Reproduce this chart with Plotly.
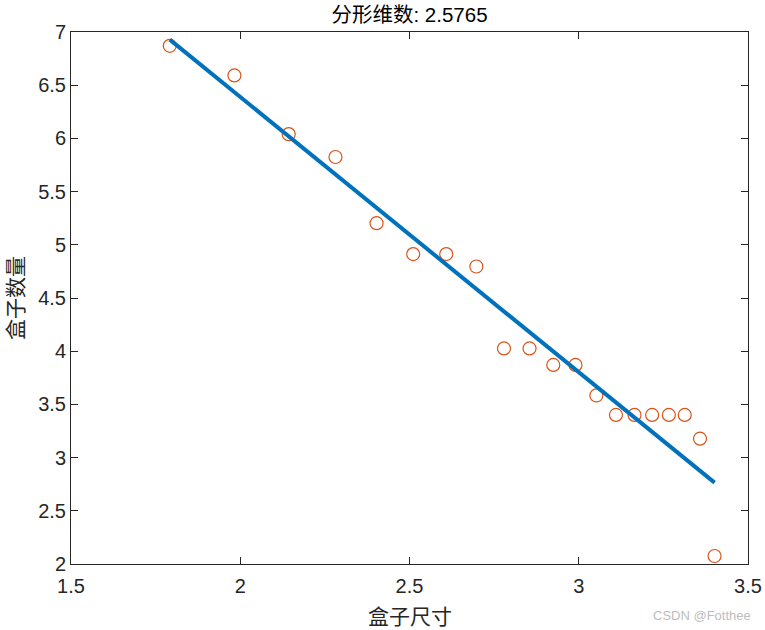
import numpy as np
import plotly.graph_objects as go

# Data (log box size vs log box count)
box_size_log = [1.7918, 1.9828, 2.1432, 2.2813, 2.4027, 2.5109, 2.6085, 2.6975,
                2.7791, 2.8546, 2.9248, 2.9904, 3.0520, 3.1100, 3.1648, 3.2168,
                3.2662, 3.3132, 3.3582, 3.4012]
box_count_log = [6.870, 6.592, 6.040, 5.825, 5.203, 4.913, 4.913, 4.796,
                 4.026, 4.026, 3.871, 3.871, 3.584, 3.401, 3.401, 3.401,
                 3.401, 3.401, 3.178, 2.075]
title_text = "分形维数: 2.5765"
x_ticks = [1.5, 2, 2.5, 3, 3.5]
y_ticks = [2, 2.5, 3, 3.5, 4, 4.5, 5, 5.5, 6, 6.5, 7]

xs = np.array(box_size_log)
ys = np.array(box_count_log)
coef = np.polyfit(xs, ys, 1)
fit_x = [xs.min(), xs.max()]
fit_y = list(np.polyval(coef, fit_x))

fig = go.Figure()
fig.add_trace(go.Scatter(
    x=box_size_log, y=box_count_log, mode="markers",
    marker=dict(symbol="circle-open", size=13, color="#D95319",
                line=dict(width=1.2, color="#D95319")),
    showlegend=False, cliponaxis=False))
fig.add_trace(go.Scatter(
    x=fit_x, y=fit_y, mode="lines",
    line=dict(color="#0072BD", width=4), showlegend=False))

axis_common = dict(
    showgrid=False, zeroline=False, showline=True, linecolor="#262626",
    linewidth=1, mirror="allticks", ticks="inside", ticklen=7,
    tickcolor="#262626", tickwidth=1, automargin=False,
    tickfont=dict(family="Liberation Sans, Arial", size=20, color="#262626"),
)
fig.update_xaxes(range=[1.5, 3.5], tickvals=x_ticks, ticklabelstandoff=4,
                 ticktext=[f"{v:g}" for v in x_ticks], **axis_common)
fig.update_yaxes(range=[2, 7], tickvals=y_ticks,
                 ticktext=[f"{v:g}" for v in y_ticks], **axis_common)

fig.update_layout(
    width=765, height=630,
    margin=dict(l=71, r=17, t=32, b=66, autoexpand=False),
    paper_bgcolor="white", plot_bgcolor="white",
    title=dict(text=title_text, x=0.5, xanchor="center", xref="paper",
               y=1 - 15 / 630, yanchor="middle", automargin=False,
               font=dict(family="Liberation Sans, Noto Sans CJK SC", size=20.5, color="#000000")),
    annotations=[
        dict(text="盒子尺寸", xref="paper", yref="paper", x=0.5, y=0,
             xanchor="center", yanchor="middle", yshift=-51, showarrow=False,
             font=dict(family="Noto Sans CJK SC", size=21, color="#262626")),
        dict(text="盒子数量", xref="paper", yref="paper", x=0, y=0.5,
             xanchor="center", yanchor="middle", xshift=-57, textangle=-90,
             showarrow=False,
             font=dict(family="Noto Sans CJK SC", size=21, color="#262626")),
        dict(text="CSDN @Fotthee", xref="paper", yref="paper", x=1, y=0,
             xanchor="right", yanchor="middle", xshift=5, yshift=-51,
             showarrow=False,
             font=dict(family="Liberation Sans, Arial", size=13, color="#bdbdbd")),
    ],
)

# remove the browser's default 8px body margin so the figure sits at (0, 0)
fig.write_html("out.html", config={"displayModeBar": False},
               post_script="document.body.style.margin='0';")
